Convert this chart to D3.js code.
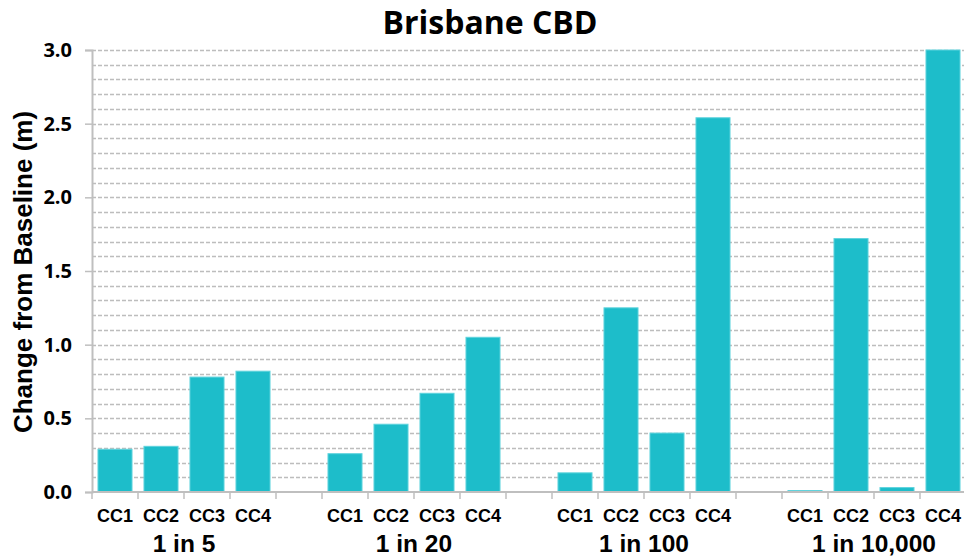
<!DOCTYPE html>
<html>
<head>
<meta charset="utf-8">
<script src="https://cdn.jsdelivr.net/npm/d3@7"></script>
<style>
  body { margin: 0; background: #fff; }
  svg { display: block; }
</style>
</head>
<body>
<div id="chart"><svg></svg></div>
<script>
const groups = ['1 in 5', '1 in 20', '1 in 100', '1 in 10,000']
const scenarios = ['CC1', 'CC2', 'CC3', 'CC4']
const values = [
  [0.29, 0.31, 0.78, 0.82],
  [0.26, 0.46, 0.67, 1.05],
  [0.13, 1.25, 0.40, 2.54],
  [0.01, 1.72, 0.03, 3.0]
]
const yTicks = [0, 0.5, 1.0, 1.5, 2.0, 2.5, 3.0]

const width = 964, height = 559
const margin = { top: 50, right: -2, bottom: 67, left: 92 }

const svg = d3.select('#chart').select('svg')
  .attr('width', width)
  .attr('height', height)

// one slot per bar plus an empty slot between groups
let slots = []
groups.forEach((g, gi) => {
  scenarios.forEach(s => slots.push(gi + '|' + s))
  if (gi < groups.length - 1) slots.push(gi + '|gap')
})

let x = d3.scaleBand()
  .domain(slots)
  .range([margin.left, width - margin.right])
  .paddingInner(0).paddingOuter(0)

let y = d3.scaleLinear()
  .domain([0, 3])
  .range([height - margin.bottom, margin.top])

const bw = x.bandwidth()
const barW = bw * 0.74

// minor dashed grid every 0.1
let grid = d3.range(1, 31).map(d => d / 10)
svg.append('g')
  .selectAll('line')
  .data(grid)
  .enter()
  .append('line')
  .attr('x1', margin.left)
  .attr('x2', width - margin.right)
  .attr('y1', d => Math.round(y(d)) + 0.5)
  .attr('y2', d => Math.round(y(d)) + 0.5)
  .attr('stroke', '#bdbdbd')
  .attr('stroke-width', 1.3)
  .attr('stroke-dasharray', '4,2')

// bars
let bars = []
groups.forEach((g, gi) => {
  scenarios.forEach((s, si) => bars.push({ key: gi + '|' + s, value: values[gi][si] }))
})
svg.append('g')
  .selectAll('rect')
  .data(bars)
  .enter()
  .append('rect')
  .attr('x', d => x(d.key) + (bw - barW) / 2)
  .attr('y', d => y(d.value))
  .attr('width', barW)
  .attr('height', d => y(0) - y(d.value))
  .style('fill', '#1dbdca')
  .style('stroke', '#5fd3dd')
  .style('stroke-width', 1)

// y axis
let yAxis = d3.axisLeft(y)
  .tickValues(yTicks)
  .tickFormat(d3.format('.1f'))
  .tickSize(7)
  .tickPadding(13)
let ga = svg.append('g')
  .attr('transform', `translate(${margin.left},0)`)
  .call(yAxis)
ga.select('.domain').attr('stroke', '#bfbfbf').attr('stroke-width', 2)
ga.selectAll('.tick line').attr('stroke', '#bfbfbf').attr('stroke-width', 1.5)
ga.selectAll('.tick text')
  .attr('font-family', '"Open Sans", sans-serif')
  .attr('font-weight', 'bold')
  .attr('font-size', '20px')
  .attr('fill', '#000')

// x axis baseline and slot ticks
let bounds = slots.map(s => x(s))
svg.append('line')
  .attr('x1', margin.left).attr('x2', width - margin.right)
  .attr('y1', y(0)).attr('y2', y(0))
  .attr('stroke', '#bfbfbf').attr('stroke-width', 2)
svg.append('g')
  .selectAll('line')
  .data(bounds)
  .enter()
  .append('line')
  .attr('x1', d => d).attr('x2', d => d)
  .attr('y1', y(0)).attr('y2', y(0) + 7)
  .attr('stroke', '#bfbfbf').attr('stroke-width', 1.5)

// scenario labels
svg.append('g')
  .selectAll('text')
  .data(bars)
  .enter()
  .append('text')
  .attr('x', d => x(d.key) + bw / 2)
  .attr('y', 522)
  .attr('text-anchor', 'middle')
  .attr('font-family', '"Liberation Sans", Arial, sans-serif')
  .attr('font-weight', 'bold')
  .attr('font-size', '18px')
  .text(d => d.key.split('|')[1])

// group labels
svg.append('g')
  .selectAll('text')
  .data(groups)
  .enter()
  .append('text')
  .attr('x', (d, gi) => (x(gi + '|CC1') + x(gi + '|CC4') + bw) / 2)
  .attr('y', 552)
  .attr('text-anchor', 'middle')
  .attr('font-family', '"Liberation Sans", Arial, sans-serif')
  .attr('font-weight', 'bold')
  .attr('font-size', '24.5px')
  .text(d => d)

// title
svg.append('text')
  .attr('x', 490)
  .attr('y', 34)
  .attr('text-anchor', 'middle')
  .attr('font-family', '"Open Sans", sans-serif')
  .attr('font-weight', 'bold')
  .attr('font-size', '32px')
  .text('Brisbane CBD')

// y axis title
svg.append('text')
  .attr('transform', `translate(32,272) rotate(-90)`)
  .attr('text-anchor', 'middle')
  .attr('font-family', '"Liberation Sans", Arial, sans-serif')
  .attr('font-weight', 'bold')
  .attr('font-size', '26px')
  .text('Change from Baseline (m)')
</script>
</body>
</html>
